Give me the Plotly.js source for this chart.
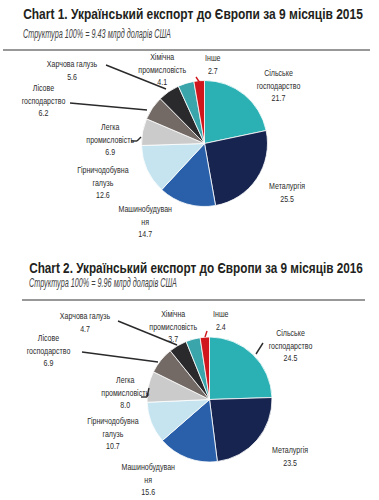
<!DOCTYPE html>
<html><head><meta charset="utf-8">
<script src="https://cdn.plot.ly/plotly-3.0.1.min.js"></script>
<style>html,body{margin:0;padding:0;background:#fff}#c{width:379px;height:500px}</style>
</head><body><div id="c"></div>
<script>
const sectors = ['Сільське господарство','Металургія','Машинобудування','Гірничодобувна галузь','Легка промисловість','Лісове господарство','Харчова галузь','Хімічна промисловість','Інше'];
const labelLines = ['Сільське<br>господарство','Металургія','Машинобудуван<br>ня','Гірничодобувна<br>галузь','Легка<br>промисловість','Лісове<br>господарство','Харчова галузь','Хімічна<br>промисловість','Інше'];
const values2015 = [21.7,25.5,14.7,12.6,6.9,6.2,5.6,4.1,2.7];
const values2016 = [24.5,23.5,15.6,10.7,8.0,6.9,4.7,3.7,2.4];
const totals = ['9.43','9.96'];
const years = ['2015','2016'];

const colors = ['#2bb1b4','#16244f','#2a60a9','#c6e4ef','#cbcbcb','#736a66','#2a2a2c','#3aa5aa','#d0161c'];
const W=379,H=500;
const px=x=>x/W, py=y=>1-y/H;
const FONT='"Liberation Sans",Arial,sans-serif';

const pies=[{cx:204.5,cy:143.5,r:63},{cx:209.5,cy:399.5,r:62.5}];
const labelPos=[
 [[278,85],[287,192],[145,221],[103,182],[110,139],[43,100],[72,70],[162,69],[213,64]],
 [[290,345],[290,456],[148,479],[113,433],[125,392],[48,350],[85,322],[173,326],[221,320]]
];
const leaders=[
 [[[106,65],[166,89],'#2a2a2c'],[[70,103],[147,110],'#2a2a2c'],[[131,141],[137,141],'#2a2a2c'],[[137,141],[141,137],'#2a2a2c'],[[196,77],[200,83],'#d0161c']],
 [[[118,321],[177,345],'#2a2a2c'],[[82,352],[158,362],'#2a2a2c'],[[141,397],[147,397],'#2a2a2c'],[[147,397],[149,388],'#2a2a2c'],[[207,331],[205,337],'#d0161c'],[[263,343],[256,354],'#2a2a2c']]
];
const titleY=[[13,34,50],[267,283,300]];
const titleX=[22,28];
const titleW=[340,334];
const subW=[148,148];
const lineX=[[3,370],[22,365]];

const data=[values2015,values2016].map((vals,i)=>({
  type:'pie',values:vals,labels:sectors,sort:false,direction:'clockwise',rotation:0,
  textinfo:'none',hoverinfo:'label+value',showlegend:false,
  marker:{colors:colors,line:{color:'#ffffff',width:0.8}},
  domain:{x:[px(pies[i].cx-pies[i].r),px(pies[i].cx+pies[i].r)],y:[py(pies[i].cy+pies[i].r),py(pies[i].cy-pies[i].r)]}
}));

const annotations=[];const shapes=[];const fitInfo=[];
[values2015,values2016].forEach((vals,i)=>{
  annotations.push({xref:'paper',yref:'paper',x:px(titleX[i]),y:py(titleY[i][0]),xanchor:'left',yanchor:'middle',showarrow:false,borderpad:0,
    text:'<b>Chart '+(i+1)+'. Український експорт до Європи за 9 місяців '+years[i]+'</b>',font:{family:FONT,size:15,color:'#231f20'}});
  fitInfo.push({w:titleW[i],left:true});
  annotations.push({xref:'paper',yref:'paper',x:px(titleX[i]),y:py(titleY[i][1]),xanchor:'left',yanchor:'middle',showarrow:false,borderpad:0,
    text:'<i>Структура 100% = '+totals[i]+' млрд доларів США</i>',font:{family:FONT,size:12,color:'#444'}});
  fitInfo.push({w:subW[i],left:true});
  shapes.push({type:'line',xref:'paper',yref:'paper',x0:px(lineX[i][0]),x1:px(lineX[i][1]),y0:py(titleY[i][2]),y1:py(titleY[i][2]),line:{color:'#333',width:1.2}});
  vals.forEach((v,k)=>{
    annotations.push({xref:'paper',yref:'paper',x:px(labelPos[i][k][0]),y:py(labelPos[i][k][1]),xanchor:'center',yanchor:'middle',showarrow:false,
      text:labelLines[k]+'<br>'+v.toFixed(1),align:'center',font:{family:FONT,size:9.8,color:'#2b2b2b'}});
    fitInfo.push({s:0.72,left:false});
  });
  leaders[i].forEach(l=>shapes.push({type:'line',xref:'paper',yref:'paper',x0:px(l[0][0]),y0:py(l[0][1]),x1:px(l[1][0]),y1:py(l[1][1]),line:{color:l[2],width:1.4}}));
});

Plotly.newPlot('c',data,{width:W,height:H,margin:{l:0,r:0,t:0,b:0},paper_bgcolor:'#fff',annotations:annotations,shapes:shapes},{staticPlot:true}).then(gd=>{
  // condense text horizontally, like the narrow typeface of the original
  const groups=gd.querySelectorAll('.annotation');
  groups.forEach((g,idx)=>{
    const info=fitInfo[idx]; if(!info) return;
    const t=g.querySelector('text.annotation-text'); if(!t) return;
    const bb=t.getBBox();
    const s=info.s!==undefined?info.s:Math.min(1,info.w/bb.width);
    const ax=info.left?bb.x:bb.x+bb.width/2;
    const prev=t.getAttribute('transform')||'';
    t.setAttribute('transform',prev+' translate('+ax+',0) scale('+s+',1) translate('+(-ax)+',0)');
  });
});
</script></body></html>
